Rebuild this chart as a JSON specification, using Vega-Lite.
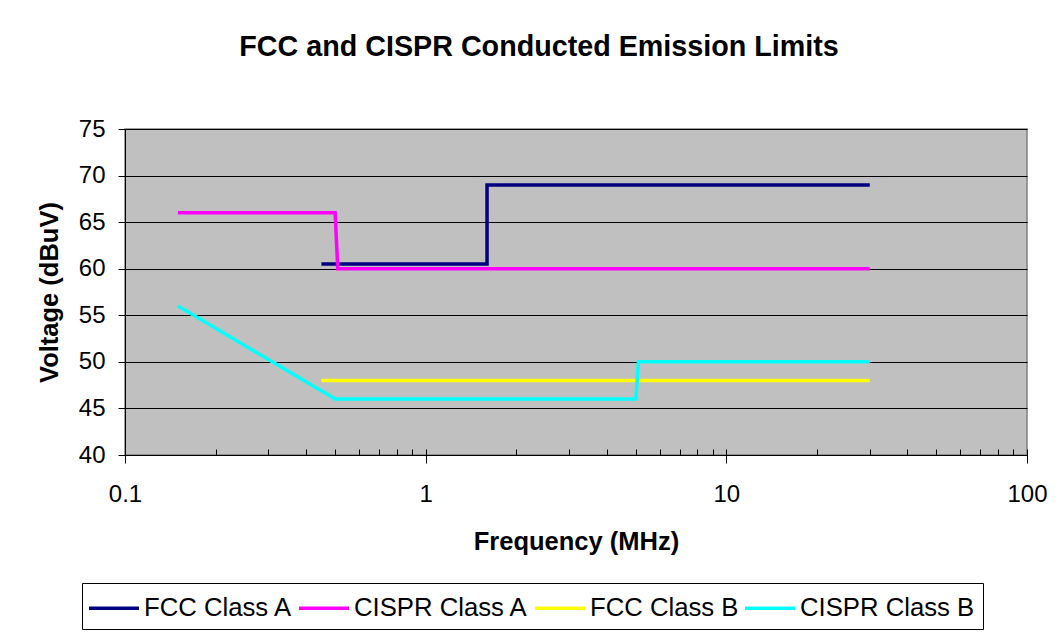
{
  "$schema": "https://vega.github.io/schema/vega-lite/v6.json",
  "autosize": "none",
  "width": 902,
  "height": 326,
  "padding": {"left": 125, "top": 129, "right": 30, "bottom": 178},
  "background": "white",
  "title": {
    "text": "FCC and CISPR Conducted Emission Limits",
    "font": "Liberation Sans",
    "fontSize": 28.7,
    "fontWeight": "bold",
    "color": "black",
    "anchor": "middle",
    "baseline": "alphabetic",
    "offset": 32,
    "dx": -37
  },
  "data": {
    "values": [
      {"series": "FCC Class A", "f": 0.45, "v": 60.5, "i": 1},
      {"series": "FCC Class A", "f": 1.6, "v": 60.5, "i": 2},
      {"series": "FCC Class A", "f": 1.6, "v": 69, "i": 3},
      {"series": "FCC Class A", "f": 30, "v": 69, "i": 4},
      {"series": "CISPR Class A", "f": 0.15, "v": 66, "i": 1},
      {"series": "CISPR Class A", "f": 0.5, "v": 66, "i": 2},
      {"series": "CISPR Class A", "f": 0.51, "v": 60, "i": 3},
      {"series": "CISPR Class A", "f": 30, "v": 60, "i": 4},
      {"series": "FCC Class B", "f": 0.45, "v": 48, "i": 1},
      {"series": "FCC Class B", "f": 30, "v": 48, "i": 2},
      {"series": "CISPR Class B", "f": 0.15, "v": 56, "i": 1},
      {"series": "CISPR Class B", "f": 0.5, "v": 46, "i": 2},
      {"series": "CISPR Class B", "f": 5, "v": 46, "i": 3},
      {"series": "CISPR Class B", "f": 5.1, "v": 50, "i": 4},
      {"series": "CISPR Class B", "f": 30, "v": 50, "i": 5}
    ]
  },
  "layer": [
    {
      "mark": {"type": "line", "strokeOpacity": 0},
      "encoding": {
        "x": {
          "field": "f",
          "type": "quantitative",
          "scale": {"type": "log", "domain": [0.1, 100], "nice": false},
          "axis": {
            "orient": "bottom",
            "title": null,
            "labels": false,
            "domain": false,
            "grid": false,
            "offset": -6,
            "values": [0.1, 0.2, 0.3, 0.4, 0.5, 0.6, 0.7, 0.8, 0.9, 1, 2, 3, 4, 5, 6, 7, 8, 9, 10, 20, 30, 40, 50, 60, 70, 80, 90, 100],
            "tickSize": 6,
            "tickColor": "black"
          }
        },
        "y": {
          "field": "v",
          "type": "quantitative",
          "scale": {"domain": [40, 75], "nice": false, "zero": false},
          "axis": {
            "title": "Voltage (dBuV)",
            "values": [40, 45, 50, 55, 60, 65, 70, 75],
            "grid": true,
            "gridColor": "black",
            "gridOpacity": 1,
            "gridWidth": 1,
            "tickSize": 7,
            "tickColor": "black",
            "domainColor": "black",
            "labelFont": "Liberation Sans",
            "labelFontSize": 24,
            "labelColor": "black",
            "labelPadding": 13,
            "titleFont": "Liberation Sans",
            "titleFontSize": 25.5,
            "titleFontWeight": "bold",
            "titleColor": "black",
            "titlePadding": 16
          }
        }
      }
    },
    {
      "mark": {"type": "line", "strokeWidth": 3.5, "clip": true},
      "encoding": {
        "x": {
          "field": "f",
          "type": "quantitative",
          "scale": {"type": "log", "domain": [0.1, 100], "nice": false},
          "axis": {
            "orient": "bottom",
            "title": "Frequency (MHz)",
            "values": [0.1, 1, 10, 100],
            "labelExpr": "datum.value >= 1 ? format(datum.value, 'd') : '0.1'",
            "grid": false,
            "tickSize": 8,
            "tickColor": "black",
            "domainColor": "black",
            "labelFont": "Liberation Sans",
            "labelFontSize": 24,
            "labelColor": "black",
            "labelPadding": 19,
            "labelFlush": false,
            "titleFont": "Liberation Sans",
            "titleFontSize": 25.5,
            "titleFontWeight": "bold",
            "titleColor": "black",
            "titlePadding": 23
          }
        },
        "y": {
          "field": "v",
          "type": "quantitative",
          "scale": {"domain": [40, 75], "nice": false, "zero": false},
          "axis": {
            "title": "Voltage (dBuV)",
            "values": [40, 45, 50, 55, 60, 65, 70, 75],
            "grid": true,
            "gridColor": "black",
            "gridOpacity": 1,
            "gridWidth": 1,
            "tickSize": 7,
            "tickColor": "black",
            "domainColor": "black",
            "labelFont": "Liberation Sans",
            "labelFontSize": 24,
            "labelColor": "black",
            "labelPadding": 13,
            "titleFont": "Liberation Sans",
            "titleFontSize": 25.5,
            "titleFontWeight": "bold",
            "titleColor": "black",
            "titlePadding": 16
          }
        },
        "color": {
          "field": "series",
          "type": "nominal",
          "scale": {
            "domain": ["FCC Class A", "CISPR Class A", "FCC Class B", "CISPR Class B"],
            "range": ["#000080", "#FF00FF", "#FFFF00", "#00FFFF"]
          },
          "legend": {
            "title": null,
            "orient": "none",
            "direction": "horizontal",
            "legendX": -43,
            "legendY": 454,
            "columns": 4,
            "symbolType": "M-1.667,0H1.667",
            "symbolSize": 900,
            "symbolOffset": 7,
            "symbolStrokeWidth": 3.5,
            "symbolFillColor": "transparent",
            "labelFont": "Liberation Sans",
            "labelFontSize": 25.7,
            "labelColor": "black",
            "labelOffset": 13,
            "columnPadding": -2,
            "padding": 8,
            "strokeColor": "black",
            "fillColor": "white",
            "labelLimit": 400
          }
        },
        "order": {"field": "i", "type": "quantitative"}
      }
    }
  ],
  "resolve": {"axis": {"x": "independent"}},
  "config": {
    "view": {"fill": "#C0C0C0", "stroke": "#808080", "strokeWidth": 1.5},
    "axis": {"domainWidth": 1, "tickWidth": 1}
  }
}
